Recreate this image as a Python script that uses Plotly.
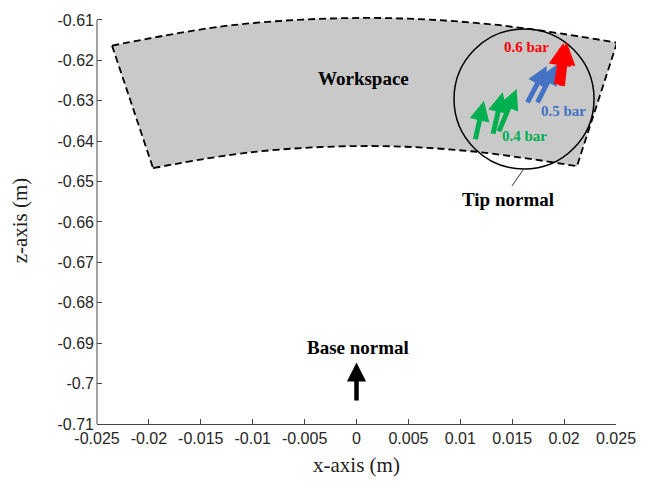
import plotly.graph_objects as go

# Workspace boundary (m): outer and inner arcs, left -> right
outer_x = [-0.02355, -0.0120, 0.0010, 0.0130, 0.0251]
outer_z = [-0.61636, -0.6113, -0.6095, -0.6111, -0.61562]
inner_x = [-0.0196, -0.0100, 0.0010, 0.0110, 0.02124]
inner_z = [-0.64667, -0.6427, -0.6412, -0.6425, -0.64619]

# Tip normal vectors for each supply pressure (tail -> tip, m)
green_tail_x = [0.01142, 0.01312, 0.01366]
green_tail_z = [-0.6399, -0.63853, -0.63795]
green_tip_x = [0.01228, 0.01408, 0.01543]
green_tip_z = [-0.62998, -0.62792, -0.62711]

blue_tail_x = [0.0164, 0.01736]
blue_tail_z = [-0.63078, -0.63078]
blue_tip_x = [0.01832, 0.01929]
blue_tip_z = [-0.62142, -0.621]

red_tail_x = [0.01929, 0.01977]
red_tail_z = [-0.62631, -0.6267]
red_tip_x = [0.01992, 0.02025]
red_tip_z = [-0.6157, -0.61555]

# Base normal vector
base_tail = (0.0, -0.70455)
base_tip = (0.0, -0.69477)

# Tip-normal callout (circle centre and leader line)
callout_center = (0.01614, -0.62956)
leader_x = [0.01604, 0.01498]
leader_z = [-0.64716, -0.65108]

x_ticks = [-0.025, -0.02, -0.015, -0.01, -0.005, 0, 0.005, 0.01, 0.015, 0.02, 0.025]
x_ticktext = ["-0.025", "-0.02", "-0.015", "-0.01", "-0.005", "0",
              "0.005", "0.01", "0.015", "0.02", "0.025"]
z_ticks = [-0.61, -0.62, -0.63, -0.64, -0.65, -0.66, -0.67, -0.68, -0.69, -0.70, -0.71]
z_ticktext = ["-0.61", "-0.62", "-0.63", "-0.64", "-0.65", "-0.66",
              "-0.67", "-0.68", "-0.69", "-0.7", "-0.71"]
z_min, z_max = -0.71, -0.61
# a little headroom so the outer arc is not clipped at the top tick
z_view_top = -0.60927

GREEN = "#00B050"
BLUE = "#4472C4"
RED = "#FF0000"
AXIS = "#444444"
SERIF = "Liberation Serif, Times New Roman, serif"
SANS = "Liberation Sans, Arial, sans-serif"

fig = go.Figure()

# shaded workspace region between the two arcs
fig.add_trace(go.Scatter(x=outer_x, y=outer_z, mode="lines",
                         line=dict(shape="spline", width=0, color="rgba(0,0,0,0)"),
                         hoverinfo="skip", showlegend=False))
fig.add_trace(go.Scatter(x=inner_x, y=inner_z, mode="lines", fill="tonexty",
                         fillcolor="rgb(201,201,201)",
                         line=dict(shape="spline", width=0, color="rgba(0,0,0,0)"),
                         hoverinfo="skip", showlegend=False))

# dashed boundary
dash_line = dict(color="black", width=1.8, dash="7px,4px")
fig.add_trace(go.Scatter(x=outer_x, y=outer_z, mode="lines",
                         line=dict(shape="spline", **dash_line),
                         hoverinfo="skip", showlegend=False))
fig.add_trace(go.Scatter(x=inner_x, y=inner_z, mode="lines",
                         line=dict(shape="spline", **dash_line),
                         hoverinfo="skip", showlegend=False))
fig.add_trace(go.Scatter(x=[outer_x[0], inner_x[0]], y=[outer_z[0], inner_z[0]],
                         mode="lines", line=dash_line,
                         hoverinfo="skip", showlegend=False))
fig.add_trace(go.Scatter(x=[outer_x[-1], inner_x[-1]], y=[outer_z[-1], inner_z[-1]],
                         mode="lines", line=dash_line,
                         hoverinfo="skip", showlegend=False))

# leader line from the callout circle to its label
fig.add_trace(go.Scatter(x=leader_x, y=leader_z, mode="lines",
                         line=dict(color="#333333", width=1),
                         hoverinfo="skip", showlegend=False))

annotations = []


def add_arrows(tail_x, tail_z, tip_x, tip_z, color, width, size):
    for tx, tz, hx, hz in zip(tail_x, tail_z, tip_x, tip_z):
        annotations.append(dict(
            x=hx, y=hz, ax=tx, ay=tz, xref="x", yref="y", axref="x", ayref="y",
            text="", showarrow=True, arrowhead=2, arrowsize=size,
            arrowwidth=width, arrowcolor=color, standoff=0, startstandoff=0))


add_arrows(green_tail_x, green_tail_z, green_tip_x, green_tip_z, GREEN, 5, 0.8)
add_arrows(blue_tail_x, blue_tail_z, blue_tip_x, blue_tip_z, BLUE, 5, 0.8)
add_arrows(red_tail_x, red_tail_z, red_tip_x, red_tip_z, RED, 6, 0.75)
add_arrows([base_tail[0]], [base_tail[1]], [base_tip[0]], [base_tip[1]], "black", 4.5, 0.85)


def label(text, x, y, size, color="black", bold=True):
    annotations.append(dict(
        x=x, y=y, xref="x", yref="y", showarrow=False,
        text=f"<b>{text}</b>" if bold else text,
        font=dict(family=SERIF, size=size, color=color)))


label("Workspace", 0.00072, -0.62445, 19)
label("Tip normal", 0.0146, -0.65450, 19)
label("Base normal", 0.0001, -0.69115, 19)
label("0.6 bar", 0.01638, -0.61665, 15, RED)
label("0.5 bar", 0.0199, -0.63250, 15, BLUE)
label("0.4 bar", 0.01623, -0.63865, 15, GREEN)

fig.add_shape(type="circle", xref="x", yref="y",
              xsizemode="pixel", ysizemode="pixel",
              xanchor=callout_center[0], yanchor=callout_center[1],
              x0=-70, x1=70, y0=-70, y1=70,
              line=dict(color="black", width=1.5), layer="above")

# left axis line spanning exactly the tick range
fig.add_shape(type="line", xref="paper", yref="y", x0=0, x1=0, y0=z_min, y1=z_max,
              line=dict(color=AXIS, width=1), layer="above")

axis_common = dict(
    ticks="inside", ticklen=5, tickcolor=AXIS, tickwidth=1,
    showgrid=False, zeroline=False, mirror=False,
    tickfont=dict(family=SANS, size=16, color="#262626"),
)

fig.update_layout(
    width=649, height=489,
    margin=dict(l=97, r=33, t=12, b=65),
    paper_bgcolor="white", plot_bgcolor="white",
    showlegend=False,
    annotations=annotations,
    xaxis=dict(range=[-0.025, 0.025], tickmode="array", tickvals=x_ticks,
               ticktext=x_ticktext, showline=True, linecolor=AXIS, linewidth=1,
               title=dict(text="x-axis (m)", font=dict(family=SERIF, size=21, color="#222222"),
                          standoff=11),
               **axis_common),
    yaxis=dict(range=[z_min, z_view_top], tickmode="array", tickvals=z_ticks,
               ticktext=z_ticktext, showline=False, ticklabelstandoff=2,
               title=dict(text="z-axis (m)", font=dict(family=SERIF, size=21, color="#222222"),
                          standoff=24),
               **axis_common),
)

fig.write_html("out.html")
